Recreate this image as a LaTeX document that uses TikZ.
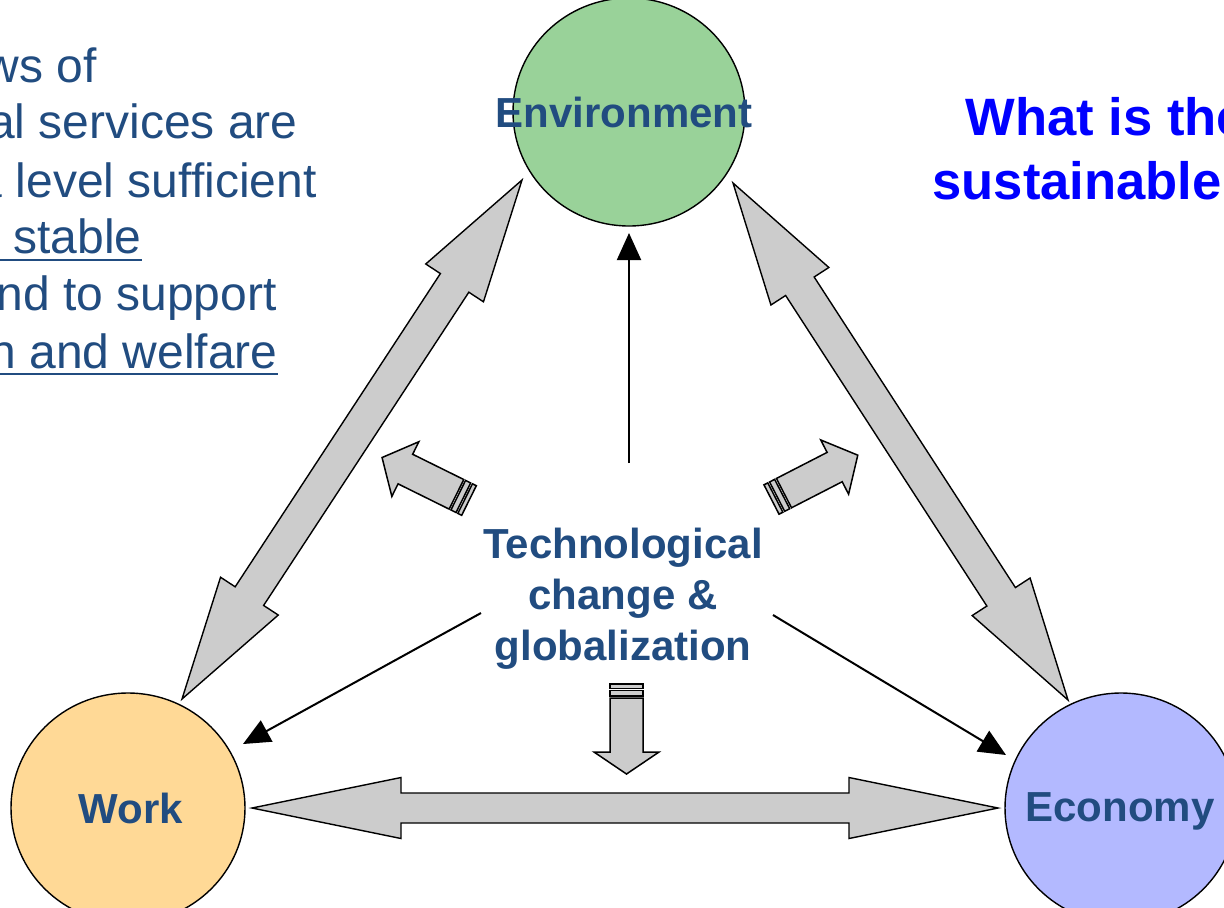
\documentclass[tikz,border=0pt]{standalone}
\usepackage{fontspec}
\setmainfont{Liberation Sans}
\usetikzlibrary{calc,arrows.meta,shapes.geometric}
\definecolor{envfill}{RGB}{153,210,153}
\definecolor{workfill}{RGB}{255,217,150}
\definecolor{ecofill}{RGB}{179,185,255}
\definecolor{arrgray}{RGB}{204,204,204}
\definecolor{txtblue}{RGB}{33,76,128}
\definecolor{qblue}{RGB}{0,0,255}
\tikzset{
  circ/.style={draw=black, line width=0.7pt, ellipse, inner sep=0pt},
  bigarrow/.style={draw=black, fill=arrgray, line width=0.7pt, line join=miter},
  smallarrow/.style={draw=black, fill=arrgray, line width=0.75pt, line join=miter},
  thinarrow/.style={draw=black, line width=1pt, -{Triangle[length=13.5pt,width=12pt]}},
  lbl/.style={font=\fontsize{21}{25.5}\selectfont\bfseries, text=txtblue, inner sep=0pt},
  bodytxt/.style={font=\fontsize{24}{29}\selectfont, text=txtblue, inner sep=0pt, anchor=base east},
  qtxt/.style={font=\fontsize{26.3}{32}\selectfont\bfseries, text=qblue, inner sep=0pt, anchor=base west},
  uline/.style={draw=txtblue, line width=1.25pt}
}
% double block arrow between two tips
\newcommand\dblblock[5]{%
  \coordinate (hA) at ($(#1)!#3!(#2)$);
  \coordinate (hB) at ($(#2)!#3!(#1)$);
  \draw[bigarrow] (#1) -- ($(hA)!#4!90:(#2)$) -- ($(hA)!#5!90:(#2)$)
    -- ($(hB)!#5!-90:(#1)$) -- ($(hB)!#4!-90:(#1)$) -- (#2)
    -- ($(hB)!#4!90:(#1)$) -- ($(hB)!#5!90:(#1)$)
    -- ($(hA)!#5!-90:(#2)$) -- ($(hA)!#4!-90:(#2)$) -- cycle;}
% striped block arrow: tail point, canvas angle, total length, head length, head half-width
\newcommand\stripedarrow[5]{%
  \begin{scope}[shift={(#1)}, rotate=#2]
    \pgfmathsetmacro\hb{#3-#4}
    \draw[smallarrow] (14,-16.5) -- (\hb,-16.5) -- (\hb,-#5) -- (#3,0)
       -- (\hb,#5) -- (\hb,16.5) -- (14,16.5) -- cycle;
    \draw[smallarrow] (0,-16.5) rectangle (4.3,16.5);
    \draw[smallarrow] (6.3,-16.5) rectangle (12,16.5);
  \end{scope}}
\begin{document}
\begin{tikzpicture}[x=0.5pt,y=-0.5pt]
\useasboundingbox (0,0) rectangle (1224,907);
\fill[white] (0,0) rectangle (1224,907);

% ellipses
\node[circ, fill=envfill, minimum width=116pt, minimum height=114pt] (env) at (629,112) {};
\node[circ, fill=workfill, minimum width=117pt, minimum height=115pt] (work) at (128,808) {};
\node[circ, fill=ecofill, minimum width=116pt, minimum height=115pt] (eco) at (1121,808) {};

% labels
\node[lbl, anchor=base] (envl) at (624,127) {Environment};
\node[lbl, anchor=base] (workl) at (131,823) {Work};
\node[lbl, anchor=base] (ecol) at (1120,821) {Economy};

% big double arrows
\coordinate (d1a) at (522,180);
\coordinate (d1b) at (182,699);
\coordinate (d2a) at (733,183);
\coordinate (d2b) at (1068,700);
\coordinate (h1a) at (252,808);
\coordinate (h1b) at (998,808);
\dblblock{d1a}{d1b}{61.5pt}{17.25pt}{8.5pt}
\dblblock{d2a}{d2b}{61.5pt}{17.25pt}{8.5pt}
\dblblock{h1a}{h1b}{74.5pt}{15.25pt}{7.5pt}

% central text
\node[lbl, align=center, anchor=base] (tech) at (623,660)
  {Technological\\change \&\\globalization};

% thin arrows
\coordinate (s1) at (629,463);
\coordinate (e1) at (629,233);
\coordinate (s2) at (481,613);
\coordinate (e2) at (243,744);
\coordinate (s3) at (773,615);
\coordinate (e3) at (1006,755);
\draw[thinarrow] (s1) -- (e1);
\draw[thinarrow] (s2) -- (e2);
\draw[thinarrow] (s3) -- (e3);

% striped arrows
\coordinate (t1) at (469,500.5);
\coordinate (t2) at (771.5,499.5);
\coordinate (t3) at (626.5,684);
\stripedarrow{t1}{153.7}{97}{26}{30.5}
\stripedarrow{t2}{27.2}{97}{26}{30.5}
\stripedarrow{t3}{-90}{90}{22}{32.5}

% left text (cut off at left edge, as in the reference)
\node[bodytxt] (l1) at (97,82) {ws of};
\node[bodytxt] (l2) at (298,138) {al services are};
\node[bodytxt] (l3) at (317,197) {a level sufficient};
\node[bodytxt] (l4) at (142,253) {a stable};
\node[bodytxt] (l5) at (277,310) {nd to support};
\node[bodytxt] (l6) at (278,368) {n and welfare};
\draw[uline] (-20,260) -- (l4.base east |- 0,260);
\draw[uline] (-20,374) -- (l6.base east |- 0,374);

% question text (cut off at right edge, as in the reference)
\node[qtxt] (q1) at (965,135) {What is the};
\node[qtxt] (q2) at (932,199) {sustainable};
\end{tikzpicture}
\end{document}
